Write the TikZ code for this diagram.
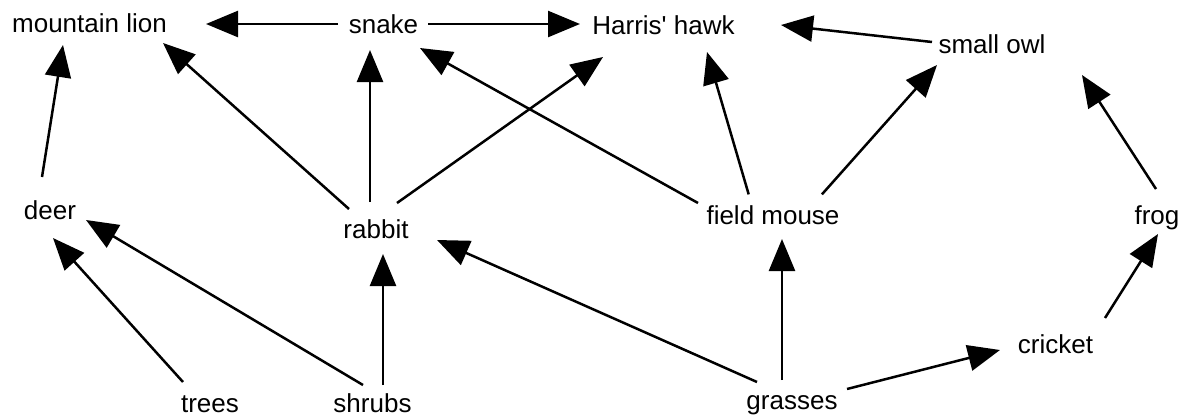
\documentclass[tikz,border=0pt]{standalone}
\usepackage{fontspec}
\setmainfont{Liberation Sans}[Ligatures=TeXOff]
\usetikzlibrary{arrows.meta}
\begin{document}
\begin{tikzpicture}[x=1pt,y=-1pt,
  lbl/.style={inner sep=0pt,anchor=base,font=\fontsize{26}{31}\selectfont},
  arr/.style={line width=2.5pt,-{Triangle[length=32pt,width=26pt]}}]
\useasboundingbox (0,0) rectangle (1189,416);
\node[lbl] (lion)    at (89.5,32)   {mountain lion};
\node[lbl] (snake)   at (383.5,33)  {snake};
\node[lbl] (hawk)    at (663.5,34)  {Harris' hawk};
\node[lbl] (owl)     at (992,53)    {small owl};
\node[lbl] (deer)    at (50,219)    {deer};
\node[lbl] (rabbit)  at (376,238)   {rabbit};
\node[lbl] (mouse)   at (773,224.5) {field mouse};
\node[lbl] (frog)    at (1157,224.5){frog};
\node[lbl] (trees)   at (210,412)   {trees};
\node[lbl] (shrubs)  at (372.5,412) {shrubs};
\node[lbl] (grasses) at (792,409.5) {grasses};
\node[lbl] (cricket) at (1055.5,353){cricket};
% snake
\draw[arr] ([shift={(338-383.5,24-33)}]snake.base) -- ([shift={(206-89.5,24-32)}]lion.base);
\draw[arr] ([shift={(428-383.5,24-33)}]snake.base) -- ([shift={(580-663.5,24-34)}]hawk.base);
% owl
\draw[arr] ([shift={(932-992,42-53)}]owl.base) -- ([shift={(781-663.5,25-34)}]hawk.base);
% deer
\draw[arr] ([shift={(42-50,177-219)}]deer.base) -- ([shift={(63-89.5,45-32)}]lion.base);
% rabbit
\draw[arr] ([shift={(349-376,209-238)}]rabbit.base) -- ([shift={(163-89.5,43-32)}]lion.base);
\draw[arr] ([shift={(370-376,202-238)}]rabbit.base) -- ([shift={(370-383.5,50-33)}]snake.base);
\draw[arr] ([shift={(397-376,203-238)}]rabbit.base) -- ([shift={(603-663.5,57-34)}]hawk.base);
% field mouse
\draw[arr] ([shift={(698-773,203-224.5)}]mouse.base) -- ([shift={(420-383.5,48-33)}]snake.base);
\draw[arr] ([shift={(748.7-773,194.4-224.5)}]mouse.base) -- ([shift={(707-663.5,52-34)}]hawk.base);
\draw[arr] ([shift={(821.9-773,194.4-224.5)}]mouse.base) -- ([shift={(937-992,65-53)}]owl.base);
% frog
\draw[arr] ([shift={(1156-1157,189-224.5)}]frog.base) -- ([shift={(1082-992,75-53)}]owl.base);
% cricket
\draw[arr] ([shift={(1105-1055.5,318-353)}]cricket.base) -- ([shift={(1158-1157,234-224.5)}]frog.base);
% grasses
\draw[arr] ([shift={(847-792,389-409.5)}]grasses.base) -- ([shift={(1000-1055.5,350-353)}]cricket.base);
\draw[arr] ([shift={(782-792,380-409.5)}]grasses.base) -- ([shift={(782-773,239-224.5)}]mouse.base);
\draw[arr] ([shift={(757-792,382-409.5)}]grasses.base) -- ([shift={(437-376,240-238)}]rabbit.base);
% shrubs
\draw[arr] ([shift={(383-372.5,385-412)}]shrubs.base) -- ([shift={(383-376,254-238)}]rabbit.base);
\draw[arr] ([shift={(363-372.5,385-412)}]shrubs.base) -- ([shift={(86-50,220-219)}]deer.base);
% trees
\draw[arr] ([shift={(183-210,382-412)}]trees.base) -- ([shift={(53-50,238-219)}]deer.base);
\end{tikzpicture}
\end{document}
